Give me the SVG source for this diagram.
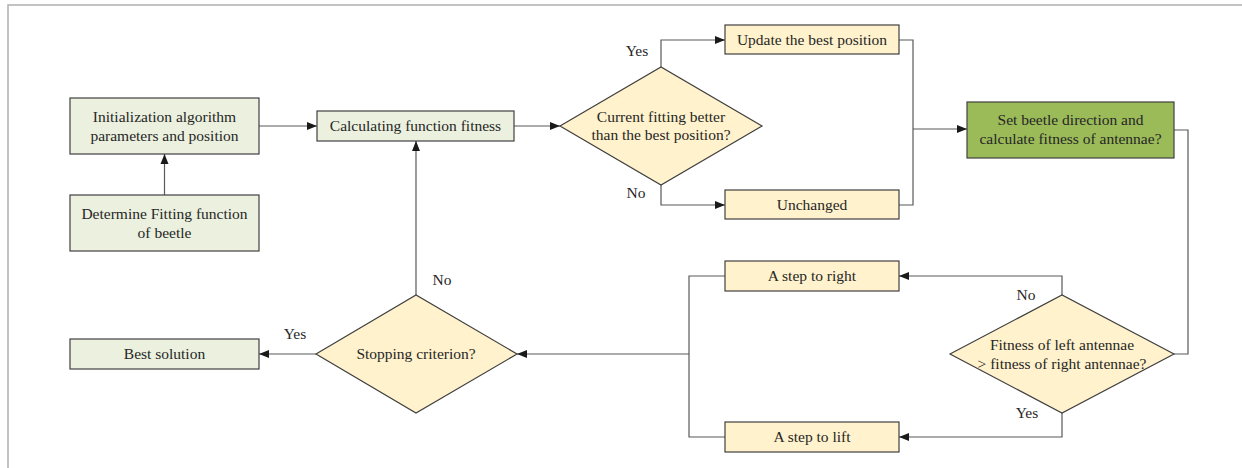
<svg xmlns="http://www.w3.org/2000/svg" width="1242" height="468" viewBox="0 0 1242 468">
<style>
  .frame{fill:none;stroke:#b0b0b0;stroke-width:1.5}
  .g{fill:#ebf1de;stroke:#404040;stroke-width:1.2}
  .y{fill:#fff2cc;stroke:#404040;stroke-width:1.2}
  .dg{fill:#9bbb59;stroke:#404040;stroke-width:1.2}
  .c{fill:none;stroke:#595959;stroke-width:1.2}
  text{font-family:"Liberation Serif","Times New Roman",serif;font-size:15.5px;fill:#262626;text-anchor:middle}
</style>
<defs>
  <marker id="ah" viewBox="0 0 10 10" refX="10" refY="5" markerWidth="10" markerHeight="10" markerUnits="userSpaceOnUse" orient="auto">
    <path d="M0,1 L10,5 L0,9 Z" fill="#1a1a1a"/>
  </marker>
</defs>
<rect width="1242" height="468" fill="#ffffff"/>
<path class="frame" d="M8,468 V5 H1242"/>

<g id="connectors">
  <path class="c" d="M164.5,195 V154" marker-end="url(#ah)"/>
  <path class="c" d="M259,126 H317" marker-end="url(#ah)"/>
  <path class="c" d="M514,126 H560" marker-end="url(#ah)"/>
  <path class="c" d="M661,67 V40 H725" marker-end="url(#ah)"/>
  <path class="c" d="M661,185 V205 H725" marker-end="url(#ah)"/>
  <path class="c" d="M899,40 H913 V205 H899"/>
  <path class="c" d="M913,129 H967" marker-end="url(#ah)"/>
  <path class="c" d="M1174,130 H1188 V354 H1174"/>
  <path class="c" d="M1062,295 V276 H899" marker-end="url(#ah)"/>
  <path class="c" d="M1062,413 V437 H899" marker-end="url(#ah)"/>
  <path class="c" d="M725,276 H689 V437 H725"/>
  <path class="c" d="M689,354 H517" marker-end="url(#ah)"/>
  <path class="c" d="M316,354 H259" marker-end="url(#ah)"/>
  <path class="c" d="M416,295 V141" marker-end="url(#ah)"/>
  <text x="637" y="56">Yes</text>
  <text x="636" y="198">No</text>
  <text x="1026" y="300">No</text>
  <text x="1027" y="418">Yes</text>
  <text x="295" y="339">Yes</text>
  <text x="442" y="285">No</text>
</g>

<g id="init">
  <rect class="g" x="70" y="98" width="189" height="56"/>
  <text x="164.5" y="121.5">Initialization algorithm</text>
  <text x="164.5" y="140.5">parameters and position</text>
</g>
<g id="determine">
  <rect class="g" x="70" y="195" width="189" height="56"/>
  <text x="164.5" y="218.5">Determine Fitting function</text>
  <text x="164.5" y="237.5">of beetle</text>
</g>
<g id="calc">
  <rect class="g" x="317" y="111" width="197" height="30"/>
  <text x="415.5" y="131">Calculating function fitness</text>
</g>
<g id="decision1">
  <polygon class="y" points="560,126 661,67 762,126 661,185"/>
  <text x="661" y="121.5">Current fitting better</text>
  <text x="661" y="140">than the best position?</text>
</g>
<g id="update">
  <rect class="y" x="725" y="25" width="174" height="29"/>
  <text x="812" y="45">Update the best position</text>
</g>
<g id="unchanged">
  <rect class="y" x="725" y="190" width="174" height="29"/>
  <text x="812" y="210">Unchanged</text>
</g>
<g id="setdir">
  <rect class="dg" x="967" y="102" width="207" height="56"/>
  <text x="1070.5" y="125">Set beetle direction and</text>
  <text x="1070.5" y="144">calculate fitness of antennae?</text>
</g>
<g id="decision2">
  <polygon class="y" points="950,354 1062,295 1174,354 1062,413"/>
  <text x="1062" y="350">Fitness of left antennae</text>
  <text x="1062" y="369">&gt; fitness of right antennae?</text>
</g>
<g id="stepright">
  <rect class="y" x="725" y="261" width="174" height="30"/>
  <text x="812" y="281">A step to right</text>
</g>
<g id="steplift">
  <rect class="y" x="725" y="422" width="174" height="30"/>
  <text x="812" y="442">A step to lift</text>
</g>
<g id="stopping">
  <polygon class="y" points="316,354 416,295 517,354 416,413"/>
  <text x="416" y="359">Stopping criterion?</text>
</g>
<g id="best">
  <rect class="g" x="70" y="339" width="189" height="30"/>
  <text x="164.5" y="359">Best solution</text>
</g>
</svg>
